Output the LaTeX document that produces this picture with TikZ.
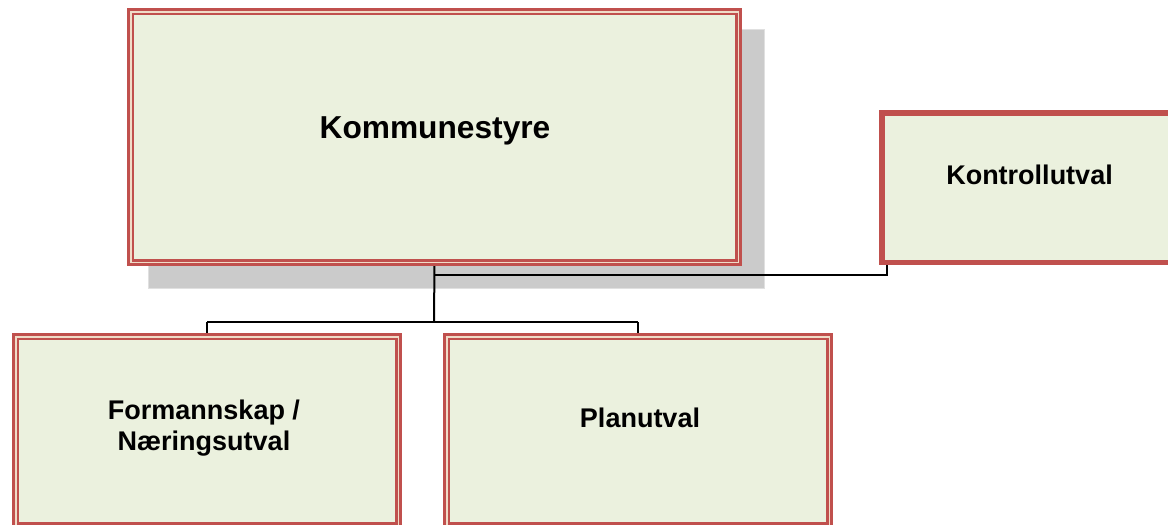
\documentclass[tikz,border=0pt]{standalone}
\usepackage{fontspec}
\setmainfont{Liberation Sans}
\pgfdeclarelayer{shadowlayer}
\pgfdeclarelayer{background}
\pgfsetlayers{shadowlayer,background,main}
\definecolor{boxfill}{HTML}{EBF1DE}
\definecolor{boxred}{HTML}{C0504D}
\definecolor{gapcream}{HTML}{F0DCC8}
\definecolor{shadowgray}{HTML}{CBCBCB}
\definecolor{shadowsoft}{HTML}{E0E0E0}
\tikzset{
  dbox/.style={rectangle, fill=boxfill, draw=boxred, line width=2.7pt,
    double=gapcream, double distance=1.8pt, outer sep=0pt, inner sep=0pt},
  kbox/.style={rectangle, fill=boxfill, draw=boxred, line width=5.5pt,
    outer sep=0pt, inner sep=0pt},
  lbl/.style={font=\bfseries\fontsize{27}{31}\selectfont, anchor=base, inner sep=0pt},
  biglbl/.style={font=\bfseries\fontsize{31.7}{36}\selectfont, anchor=base, inner sep=0pt},
  conn/.style={draw=black, line width=2pt}
}
\begin{document}
\begin{tikzpicture}[x=1pt,y=-1pt]
\useasboundingbox (0,0) rectangle (1168,525);
\clip (0,0) rectangle (1168,525);
% boxes
\node[dbox, minimum width=607.8pt, minimum height=250.8pt] (ks) at (434.5,137) {};
\node[kbox, minimum width=295.5pt, minimum height=149.5pt] (ko) at (1029.5,187.5) {};
\node[dbox, minimum width=382.8pt, minimum height=188.8pt] (fm) at (207,431) {};
\node[dbox, minimum width=382.8pt, minimum height=188.8pt] (pu) at (638,431) {};
% labels
\node[biglbl] (tks) at (435,138.3) {Kommunestyre};
\node[lbl] (tko) at (1029.5,184.7) {Kontrollutval};
\node[lbl] (tfm1) at (204,419.7) {Formannskap /};
\node[lbl] (tfm2) at (204,450.2) {Næringsutval};
\node[lbl] (tpu) at (640,427.7) {Planutval};
% shadow
\begin{pgfonlayer}{shadowlayer}
  \fill[shadowsoft] ([shift={(17,17)}]ks.north west) rectangle ([shift={(27,27)}]ks.south east);
  \fill[shadowgray] ([shift={(18.4,18.4)}]ks.north west) rectangle ([shift={(25.6,25.6)}]ks.south east);
\end{pgfonlayer}
% connectors
\coordinate (bus) at (434,322);
\coordinate (kj) at (434,275);
\begin{pgfonlayer}{background}
  \draw[conn] (ks.south) -- (bus);
  \draw[conn] (fm.north |- bus) -- (pu.north |- bus);
  \draw[conn] (fm.north |- bus) -- (fm.north);
  \draw[conn] (pu.north |- bus) -- (pu.north);
  \draw[conn] (kj) -| ([xshift=5.25pt]ko.south west);
\end{pgfonlayer}
\end{tikzpicture}
\end{document}
